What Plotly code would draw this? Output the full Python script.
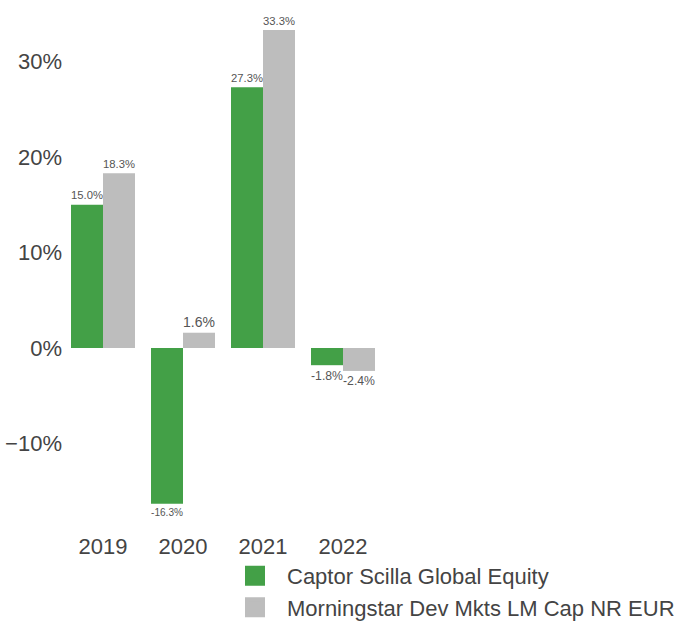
import plotly.graph_objects as go

years = ["2019", "2020", "2021", "2022"]
fund_name = "Captor Scilla Global Equity"
bench_name = "Morningstar Dev Mkts LM Cap NR EUR"
fund_values = [15.0, -16.3, 27.3, -1.8]
bench_values = [18.3, 1.6, 33.3, -2.4]
tick_values = [-10, 0, 10, 20, 30]
tick_labels = [("\u2212" if t < 0 else "") + f"{abs(t)}%" for t in tick_values]

GREEN = "#43a047"
GREY = "#bdbdbd"
FONT = "Liberation Sans, Arial, Helvetica, sans-serif"

fig = go.Figure()
for name, vals, col in [(fund_name, fund_values, GREEN), (bench_name, bench_values, GREY)]:
    fig.add_trace(go.Bar(
        x=years, y=vals, name=name, marker=dict(color=col, line=dict(width=0)),
        text=[f"{v:.1f}%" for v in vals], textposition="outside",
        textfont=dict(size=14, color="#555555", family=FONT),
        cliponaxis=False, showlegend=False,
    ))
# legend proxies (larger square symbols)
for name, col in [(fund_name, GREEN), (bench_name, GREY)]:
    fig.add_trace(go.Scatter(
        x=[None], y=[None], mode="markers", name=name,
        marker=dict(symbol="square", size=16, color=col, line=dict(width=4, color=col)),
    ))

fig.update_layout(
    width=679, height=621,
    margin=dict(l=63, r=296, t=10, b=90, autoexpand=False),
    paper_bgcolor="white", plot_bgcolor="white",
    barmode="group", bargap=0.2, bargroupgap=0,
    font=dict(family=FONT, size=22, color="#444444"),
    xaxis=dict(type="category", range=[-0.5, 3.5], showgrid=False, zeroline=False,
               showline=False, ticks="", automargin=False,
               tickfont=dict(size=22, color="#444444")),
    yaxis=dict(range=[-19.16, 35.39], tickmode="array", tickvals=tick_values,
               ticktext=tick_labels, automargin=False,
               showgrid=False, zeroline=False, showline=False, ticks="",
               tickfont=dict(size=22, color="#444444")),
    legend=dict(orientation="v", x=0.5, xanchor="left", y=-0.046, yanchor="top",
                font=dict(size=22, color="#444444"), bgcolor="rgba(0,0,0,0)",
                itemwidth=54, tracegroupgap=0),
)

fig.write_html("out.html", config={"displayModeBar": False},
               post_script="document.body.style.margin='0';document.body.style.overflow='hidden';")
